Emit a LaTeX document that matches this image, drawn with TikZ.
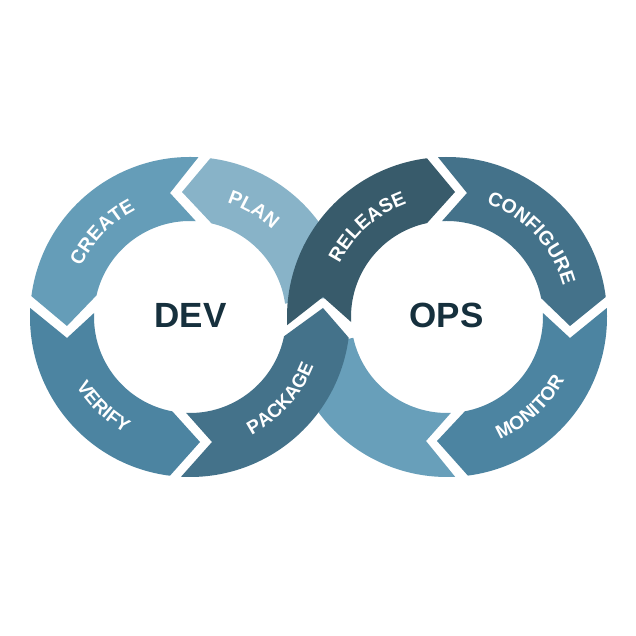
\documentclass[tikz,border=0pt]{standalone}
\usepackage{fontspec}
\setmainfont{Liberation Sans}
\usetikzlibrary{calc,decorations.text}
\definecolor{cCreate}{HTML}{659DB8}
\definecolor{cPlan}{HTML}{88B3C8}
\definecolor{cRelease}{HTML}{385B6B}
\definecolor{cConfig}{HTML}{44728A}
\definecolor{cMonitor}{HTML}{4C84A1}
\definecolor{cPackage}{HTML}{44728A}
\definecolor{cBlue}{HTML}{689FBA}
\definecolor{cTitle}{HTML}{16303D}
\newcommand{\lblfont}{\fontsize{19.5}{20}\selectfont\bfseries}
\newcommand{\botfont}{\fontsize{19}{20}\selectfont\bfseries\addfontfeature{LetterSpace=4}}
\newcommand{\seg}[9]{% colour, centre, outer start, outer end, tip x, tip y, inner start, inner end, notch
  \fill[#1] ($(#2)+(#3:160)$) arc[start angle=#3,end angle=#4,radius=160] -- (#5,#6)
    -- ($(#2)+(#7:96)$) arc[start angle=#7,end angle=#8,radius=96] -- #9 -- cycle;}
\newcommand{\toplabel}[3]{% centre, angle, text
  \path[decorate,decoration={text along path,text color=white,text align=center,text={|\lblfont|#3}}]
    ($(#1)+({#2+60}:120)$) arc[start angle={#2+60},end angle={#2-60},radius=120];}
\newcommand{\botlabel}[3]{%
  \path[decorate,decoration={text along path,text color=white,text align=center,text={|\botfont|#3}}]
    ($(#1)+({#2-60}:133)$) arc[start angle={#2-60},end angle={#2+60},radius=133];}
\tikzset{title/.style={text=cTitle,font=\fontsize{35}{36}\selectfont\bfseries,inner sep=0pt,anchor=center}}
\begin{document}
\begin{tikzpicture}[x=1pt,y=1pt]
\useasboundingbox (0,0) rectangle (636,636);
\fill[white] (0,0) rectangle (636,636);
\coordinate (L) at (190,319);
\coordinate (R) at (447,319);
% unlabelled lower arc and PLAN lie below their neighbours
\seg{cBlue}{R}{192.5}{272.9}{426}{195}{272.3}{192.5}{($(R)+(192.5:160)$)}
\seg{cPlan}{L}{82.7}{8}{348}{341}{8}{77}{(182,444)}
\seg{cCreate}{L}{87}{172.5}{67}{310}{167}{86.5}{(170,443)}
\seg{cMonitor}{L}{176.8}{262.8}{200}{194}{259.4}{177.6}{(67,298)}
\seg{cPackage}{L}{266.8}{352.6}{323}{328}{348.4}{267.7}{(212,194)}
\seg{cRelease}{R}{97.2}{182.9}{323}{339}{183}{102}{(455,444)}
\seg{cConfig}{R}{93.2}{7.2}{570}{310}{11.3}{93}{(467,443)}
\seg{cMonitor}{R}{3.2}{-82.5}{437}{195}{-79.3}{2.4}{(570,298)}
\toplabel{L}{136}{CREATE}
\toplabel{L}{59.4}{PLAN}
\toplabel{R}{131.5}{RELEASE}
\toplabel{R}{43}{CONFIGURE}
\botlabel{L}{226}{VERIFY}
\botlabel{L}{318}{PACKAGE}
\botlabel{R}{312.7}{MONITOR}
\node[title] (dev) at (190.5,321) {DEV};
\node[title] (ops) at (446.5,321) {OPS};
\end{tikzpicture}
\end{document}
